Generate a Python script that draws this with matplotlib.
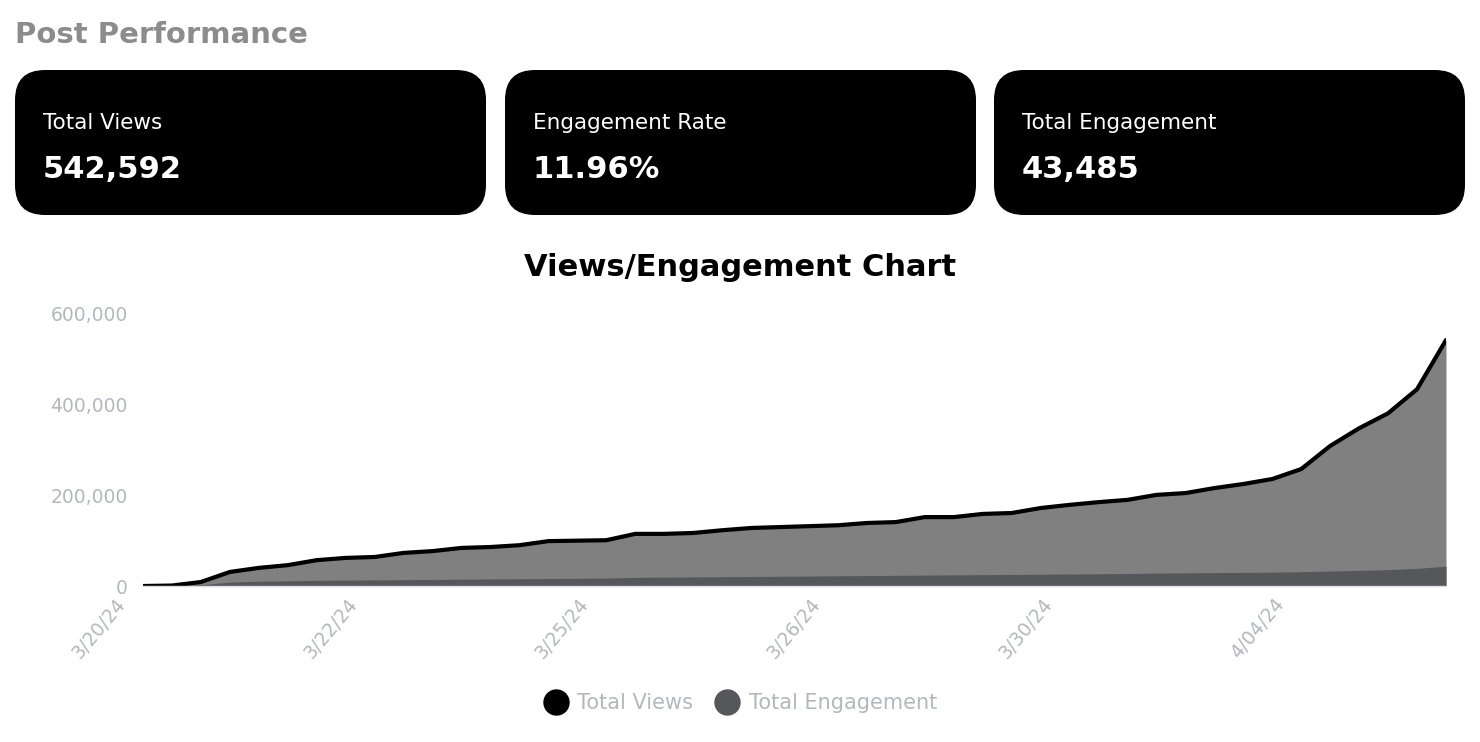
import matplotlib.pyplot as plt
from matplotlib.patches import FancyBboxPatch
from matplotlib.lines import Line2D
import matplotlib.ticker as mticker
import matplotlib.transforms as mtransforms

plt.rcParams["font.family"] = ["DejaVu Sans"]

# data (one point every ~29 px)
views = [0, 1000, 8800, 31000, 40000, 46000, 57000, 62000, 64000, 73000,
         77000, 84000, 86000, 90000, 99000, 100000, 101000, 115000, 115000, 117000,
         123000, 128000, 130000, 132000, 134000, 139000, 141000, 152000, 152000, 159000,
         161000, 172000, 179000, 185000, 190000, 201000, 205000, 216000, 225000, 236000,
         258000, 309000, 348000, 381000, 434000, 542592]
engagement = [0, 300, 3000, 8500, 10500, 11500, 12500, 13000, 13500, 14000,
              14500, 15000, 15500, 16000, 16500, 17000, 17500, 19000, 19500, 20000,
              20500, 21000, 21500, 22000, 22500, 23000, 23500, 24000, 24500, 25000,
              25500, 26000, 26500, 27000, 27500, 28500, 29000, 29500, 30000, 30500,
              31500, 33000, 34500, 36000, 39000, 43485]
tick_labels = ["3/20/24", "3/22/24", "3/25/24", "3/26/24", "3/30/24", "4/04/24"]
tick_step = 8

cards = [("Total Views", "542,592"),
         ("Engagement Rate", "11.96%"),
         ("Total Engagement", "43,485")]
series_names = ["Total Views", "Total Engagement"]

W, H = 1480, 742
fig = plt.figure(figsize=(W / 100, H / 100), dpi=100)

# overlay in pixel coordinates for header and cards
bg = fig.add_axes([0, 0, 1, 1], zorder=0)
bg.set_xlim(0, W)
bg.set_ylim(H, 0)
bg.axis("off")

bg.text(15, 43, "Post Performance", color="#8c8c8c", fontsize=21,
        fontweight="bold", va="baseline", ha="left")

card_x = [15, 505, 994]
card_w = 471
for x0, (label, value) in zip(card_x, cards):
    box = FancyBboxPatch((x0, 70), card_w, 145,
                         boxstyle="round,pad=0,rounding_size=30",
                         facecolor="black", edgecolor="none")
    bg.add_patch(box)
    bg.text(x0 + 28, 129, label, color="white", fontsize=15.5,
            va="baseline", ha="left")
    bg.text(x0 + 28, 178, value, color="white", fontsize=22,
            fontweight="bold", va="baseline", ha="left")

bg.text(740, 276, "Views/Engagement Chart", color="black", fontsize=22,
        fontweight="bold", va="baseline", ha="center")

# main chart
ax = fig.add_axes([143 / W, 1 - 586 / H, (1446 - 143) / W, (586 - 314) / H],
                  zorder=1)
ax.patch.set_alpha(0)
x = list(range(len(views)))

ax.fill_between(x, views, color="#808080", lw=0)
ax.plot(x, views, color="black", lw=3, solid_joinstyle="round",
        solid_capstyle="round")
ax.fill_between(x, engagement, color="#56575a", lw=0)

ax.set_xlim(0, len(views) - 1)
ax.set_ylim(0, 600000)
ax.set_yticks([0, 200000, 400000, 600000])
ax.yaxis.set_major_formatter(mticker.FuncFormatter(lambda v, p: f"{int(v):,}"))
ax.set_xticks(list(range(0, len(views), tick_step))[:len(tick_labels)])
ax.set_xticklabels(tick_labels, rotation=50, ha="right", va="top",
                   rotation_mode="anchor")

ax.tick_params(axis="both", length=0, colors="#b3b8bf", labelsize=13.5)
ax.tick_params(axis="y", pad=11)
ax.tick_params(axis="x", pad=6)
for s in ["top", "right", "left"]:
    ax.spines[s].set_visible(False)
ax.spines["bottom"].set_color("#d9dde2")
ax.spines["bottom"].set_linewidth(1)

handles = [Line2D([], [], marker="o", ls="", markersize=18, color="black"),
           Line2D([], [], marker="o", ls="", markersize=18, color="#56575a")]
fig.legend(handles, series_names, loc="center", bbox_to_anchor=(0.5, 1 - 703 / H),
           ncol=2, frameon=False, fontsize=15, labelcolor="#b3b8bf",
           handletextpad=0.45, columnspacing=1.0, handlelength=1.2)

# shift rotated date labels left so they end before their tick
fig.canvas.draw()
offset = mtransforms.ScaledTranslation(-28 / 100, 0, fig.dpi_scale_trans)
for lab in ax.get_xticklabels():
    lab.set_transform(lab.get_transform() + offset)

fig.savefig("out.png", dpi=100)
